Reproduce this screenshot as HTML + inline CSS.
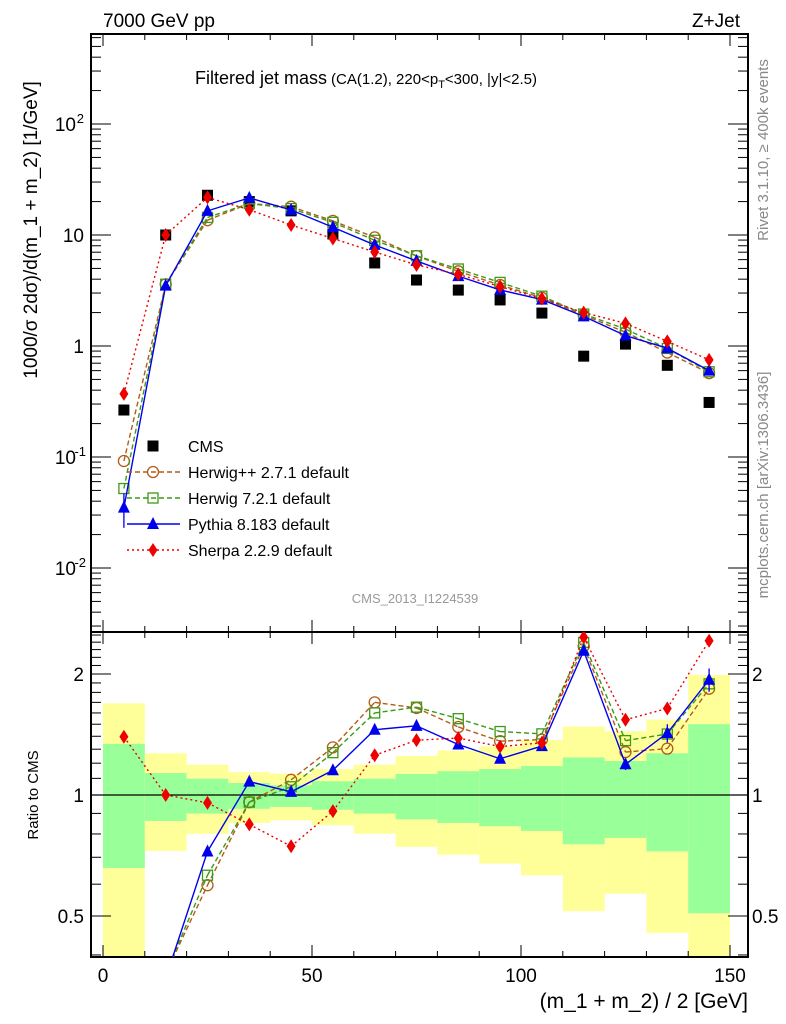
<!DOCTYPE html>
<html><head><meta charset="utf-8">
<style>
html,body{margin:0;padding:0;background:#fff;width:786px;height:1024px;overflow:hidden;}
svg{display:block;font-family:"Liberation Sans",Arial,sans-serif;position:absolute;left:0;top:0;}
</style></head>
<body>
<svg id="chart" width="786" height="1024" xmlns="http://www.w3.org/2000/svg"></svg>
<script>
const binCenters=[5,15,25,35,45,55,65,75,85,95,105,115,125,135,145];
const cmsValues=[0.265,10,22.8,20,16.5,10.2,5.6,3.93,3.19,2.6,1.98,0.81,1.04,0.67,0.31];
const herwigppValues=[0.092,3.6,13.6,19.2,18.0,13.4,9.52,6.47,4.71,3.54,2.72,1.90,1.33,0.874,0.57];
const herwig7Values=[0.052,3.6,14.4,19.2,17.3,13.0,8.96,6.5,4.94,3.74,2.81,1.94,1.42,0.95,0.586];
const pythiaValues=[0.035,3.5,16.5,21.6,16.8,11.75,8.14,5.84,4.26,3.2,2.62,1.85,1.24,0.955,0.60];
const pythiaErr=[0.012,0.1,0.3,0.3,0.2,0.15,0.1,0.08,0.06,0.05,0.04,0.03,0.04,0.05,0.04];
const sherpaValues=[0.37,10.0,21.8,16.9,12.3,9.3,7.03,5.38,4.42,3.43,2.67,2.0,1.6,1.10,0.75];
const bandYellowHi=[1.69,1.27,1.19,1.14,1.13,1.16,1.19,1.25,1.29,1.32,1.37,1.48,1.44,1.54,1.99];
const bandGreenHi=[1.34,1.134,1.098,1.071,1.057,1.082,1.098,1.128,1.146,1.16,1.18,1.24,1.215,1.27,1.50];
const bandGreenLo=[0.658,0.862,0.899,0.924,0.934,0.919,0.899,0.870,0.852,0.836,0.814,0.754,0.782,0.724,0.508];
const bandYellowLo=[0.3,0.726,0.801,0.852,0.865,0.841,0.801,0.743,0.710,0.675,0.631,0.514,0.568,0.454,0.3];
const xTicks=[0,50,100,150];
const mainTicks=[[0.01,'10','-2'],[0.1,'10','-1'],[1,'1',''],[10,'10',''],[100,'10','2']];
const ratioTicks=[[0.5,'0.5'],[1,'1'],[2,'2']];

const L=91,R=748,T=34,MID=632,B=957;
const X=v=>103+4.18*v;
const Y=v=>346-111*Math.log10(v);
const YR=v=>795-402*Math.log10(v);
const svg=document.getElementById('chart');
const NS='http://www.w3.org/2000/svg';
function mk(tag,attrs,parent){const e=document.createElementNS(NS,tag);for(const k in attrs)e.setAttribute(k,attrs[k]);(parent||svg).appendChild(e);return e;}
function txt(s,attrs,parent){const e=mk('text',attrs,parent);e.textContent=s;return e;}

const defs=mk('defs',{});
const c1=mk('clipPath',{id:'cm'},defs);mk('rect',{x:L,y:T,width:R-L,height:MID-T},c1);
const c2=mk('clipPath',{id:'cr'},defs);mk('rect',{x:L,y:MID,width:R-L,height:B-MID},c2);

const gBand=mk('g',{'clip-path':'url(#cr)'});


for(let i=0;i<binCenters.length;i++){
  const x0=X(binCenters[i]-5),x1=X(binCenters[i]+5);
  const yt=Math.max(MID,YR(bandYellowHi[i])),yb=Math.min(B,YR(bandYellowLo[i]));
  const y=mk('rect',{x:x0,y:yt,width:x1-x0,height:yb-yt,fill:'#ffff99'},gBand);
  
  
  const gt=Math.max(MID,YR(bandGreenHi[i])),gb=Math.min(B,YR(bandGreenLo[i]));
  const g=mk('rect',{x:x0,y:gt,width:x1-x0,height:gb-gt,fill:'#99ff99'},gBand);
  
  
}
mk('line',{x1:L,x2:R,y1:YR(1),y2:YR(1),stroke:'#000','stroke-width':1.3});

const f1=mk('rect',{x:L,y:T,width:R-L,height:MID-T,fill:'none',stroke:'#000','stroke-width':2});

const f2=mk('rect',{x:L,y:MID,width:R-L,height:B-MID,fill:'none',stroke:'#000','stroke-width':2});


for(let v=0;v<=150;v+=10){
  const big=v%50===0, len=big?12:6;
  for(const [yb,yt] of [[MID,T],[B,MID]]){
    mk('line',{x1:X(v),x2:X(v),y1:yb,y2:yb-len,stroke:'#000'});
    mk('line',{x1:X(v),x2:X(v),y1:yt,y2:yt+len,stroke:'#000'});
  }
}
xTicks.forEach(v=>{const t=txt(String(v),{x:X(v),y:982,'font-size':19,'text-anchor':'middle'});});

for(let d=-3;d<=2;d++){
  for(let m=1;m<10;m++){
    const v=m*Math.pow(10,d), y=Y(v);
    if(y<T||y>MID)continue;
    const len=m===1?20:10;
    mk('line',{x1:L,x2:L+len,y1:y,y2:y,stroke:'#000'});
    mk('line',{x1:R,x2:R-len,y1:y,y2:y,stroke:'#000'});
  }
}
mainTicks.forEach(([v,b,e])=>{
  const t=txt('',{x:e?76:84,y:Y(v)+7,'font-size':19,'text-anchor':'end'});
  
  t.textContent=b;
  if(e){txt(e,{x:e.length>1?86:84,y:Y(v)-1,'font-size':13,'text-anchor':'end'});}
});
for(const v of [0.4,0.5,0.6,0.7,0.8,0.9,1,1.1,1.2,1.3,1.4,1.5,1.6,1.7,1.8,1.9,2,2.1,2.2,2.3,2.4,2.5]){
  const y=YR(v); if(y<MID||y>B)continue;
  const len=[0.5,1,2].includes(v)?20:10;
  mk('line',{x1:L,x2:L+len,y1:y,y2:y,stroke:'#000'});
  mk('line',{x1:R,x2:R-len,y1:y,y2:y,stroke:'#000'});
}
ratioTicks.forEach(([v,s])=>{
  const a=txt(s,{x:84,y:YR(v)+7,'font-size':19,'text-anchor':'end'});
  const b=txt(s,{x:752,y:YR(v)+7,'font-size':19});
});

function marker(type,x,y,col,g){
  if(type==='sq') return mk('rect',{x:x-5.5,y:y-5.5,width:11,height:11,fill:'#000'},g);
  if(type==='circ') return mk('circle',{cx:x,cy:y,r:5.5,fill:'none',stroke:col,'stroke-width':1.3},g);
  if(type==='osq') return mk('rect',{x:x-5,y:y-5,width:10,height:10,fill:'none',stroke:col,'stroke-width':1.3},g);
  if(type==='tri') return mk('polygon',{points:`${x},${y-7} ${x-6},${y+5} ${x+6},${y+5}`,fill:col},g);
  if(type==='dia') return mk('polygon',{points:`${x},${y-7} ${x-4.5},${y} ${x},${y+7} ${x+4.5},${y}`,fill:col},g);
}
// clip a segment to vertical range [y0,y1]
function clipSeg(a,b,y0,y1){
  let [xa,ya]=a,[xb,yb]=b;
  if((ya<y0&&yb<y0)||(ya>y1&&yb>y1))return null;
  const cut=(p,q,yl)=>[p[0]+(q[0]-p[0])*(yl-p[1])/(q[1]-p[1]),yl];
  let A=[xa,ya],Bp=[xb,yb];
  if(A[1]>y1)A=cut(A,Bp,y1); else if(A[1]<y0)A=cut(A,Bp,y0);
  if(Bp[1]>y1)Bp=cut(A,Bp,y1); else if(Bp[1]<y0)Bp=cut(A,Bp,y0);
  return [A,Bp];
}
const series=[
  {name:'herwigpp',vals:herwigppValues,col:'#b25c16',type:'circ',dash:'5,3',label:'Herwig++ 2.7.1 default'},
  {name:'herwig7',vals:herwig7Values,col:'#3c9a16',type:'osq',dash:'5,3',label:'Herwig 7.2.1 default'},
  {name:'pythia',vals:pythiaValues,col:'#0000ee',type:'tri',dash:'',label:'Pythia 8.183 default'},
  {name:'sherpa',vals:sherpaValues,col:'#ee0000',type:'dia',dash:'2,3',label:'Sherpa 2.2.9 default'}
];
const gc=mk('g',{'clip-path':'url(#cm)'});

binCenters.forEach((c,i)=>{const m=marker('sq',X(c),Y(cmsValues[i]),'#000',gc);});

series.forEach(s=>{
  for(const [panel,fy,clip,y0,y1] of [['main',i=>Y(s.vals[i]),'cm',T,MID],['ratio',i=>YR(s.vals[i]/cmsValues[i]),'cr',MID,B]]){
    const g=mk('g',{'clip-path':`url(#${clip})`});
    
    
    const P=binCenters.map((c,i)=>[X(c),fy(i)]);
    let d='';
    for(let i=0;i<P.length-1;i++){
      const sg=clipSeg(P[i],P[i+1],y0-2,y1+2);
      if(sg)d+=`M${sg[0][0]},${sg[0][1]}L${sg[1][0]},${sg[1][1]}`;
    }
    const pl=mk('path',{d:d,fill:'none',stroke:s.col,'stroke-width':1.4},g);
    if(s.dash)pl.setAttribute('stroke-dasharray',s.dash);
    binCenters.forEach((c,i)=>{
      const py=fy(i);
      if(py<y0-4||py>y1+4)return;
      if(s.name==='pythia'){
        const v=s.vals[i],e=pythiaErr[i],dd=panel==='main'?1:cmsValues[i];
        const f=panel==='main'?Y:YR;
        const ya=Math.max(y0,f((v+e)/dd)),yb=Math.min(y1,f(Math.max(v-e,1e-4)/dd));
        mk('line',{x1:X(c),x2:X(c),y1:ya,y2:yb,stroke:s.col,'stroke-width':1.3},g);
      }
      const m=marker(s.type,X(c),py,s.col,g);
      
      
    });
  }
});

const lg=mk('g',{});

marker('sq',153,446,'#000',lg);
txt('CMS',{x:188,y:452,'font-size':16},lg);
series.forEach((s,k)=>{
  const y=472+26*k;
  const l=mk('line',{x1:127,x2:180,y1:y,y2:y,stroke:s.col,'stroke-width':1.4},lg);
  if(s.dash)l.setAttribute('stroke-dasharray',s.dash);
  marker(s.type,153,y,s.col,lg);
  const t=txt(s.label,{x:188,y:y+6,'font-size':16},lg);
  
});
</script>
<svg width="786" height="1024" xmlns="http://www.w3.org/2000/svg">
<g font-family="Liberation Sans, Arial, sans-serif">
<text x="103" y="27" font-size="19">7000 GeV pp</text>
<text x="740" y="27" font-size="19" text-anchor="end">Z+Jet</text>
<text x="195" y="84" font-size="18">Filtered jet mass<tspan font-size="15" dx="4">(CA(1.2), 220&lt;p</tspan><tspan font-size="11" dy="4">T</tspan><tspan font-size="15" dy="-4">&lt;300, |y|&lt;2.5)</tspan></text>
<text x="415" y="603" font-size="13" fill="#999" text-anchor="middle">CMS_2013_I1224539</text>
<text transform="translate(768,150) rotate(-90)" font-size="15" fill="#888" text-anchor="middle">Rivet 3.1.10, ≥ 400k events</text>
<text transform="translate(768,485) rotate(-90)" font-size="15" fill="#888" text-anchor="middle">mcplots.cern.ch [arXiv:1306.3436]</text>
<text transform="translate(37,230) rotate(-90)" font-size="19" text-anchor="middle">1000/σ 2dσ)/d(m_1 + m_2) [1/GeV]</text>
<text transform="translate(38,795) rotate(-90)" font-size="15" text-anchor="middle">Ratio to CMS</text>
<text x="748" y="1008" font-size="21" text-anchor="end">(m_1 + m_2) / 2 [GeV]</text>
</g></svg>
</body></html>
